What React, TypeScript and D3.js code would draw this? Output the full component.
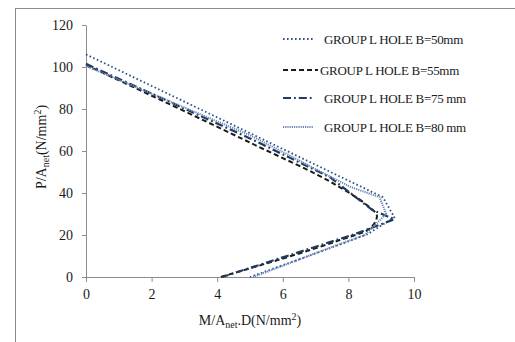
import { useRef, useEffect } from 'react';
import * as d3 from 'd3';

type Pt = { m: number; p: number };

const B50: Pt[] = [
  { m: 0, p: 106 }, { m: 5, p: 68.5 }, { m: 9.05, p: 38 }, { m: 9.4, p: 28.5 },
  { m: 8.6, p: 20.5 }, { m: 7.7, p: 15.2 }, { m: 5.0, p: 0 },
];
const B55: Pt[] = [
  { m: 0, p: 101 }, { m: 5, p: 64 }, { m: 7.6, p: 44 }, { m: 8.5, p: 35 },
  { m: 8.87, p: 29 }, { m: 8.6, p: 22.5 }, { m: 7.74, p: 17.6 }, { m: 4.1, p: 0 },
];
const B75: Pt[] = [
  { m: 0, p: 101.5 }, { m: 5, p: 66 }, { m: 7.44, p: 47.5 }, { m: 8.72, p: 32 },
  { m: 9.4, p: 27.5 }, { m: 8.3, p: 21 }, { m: 4.15, p: 0 },
];
const B80: Pt[] = [
  { m: 0, p: 100.5 }, { m: 5, p: 67.5 }, { m: 8.05, p: 43 }, { m: 8.95, p: 38 },
  { m: 9.15, p: 30 }, { m: 8.5, p: 20 }, { m: 7.7, p: 15.5 }, { m: 5.1, p: 0 },
];

const LABELS = [
  'GROUP L HOLE B=50mm',
  'GROUP L HOLE B=55mm',
  'GROUP L HOLE B=75 mm',
  'GROUP L HOLE B=80 mm',
];
const X_TICKS = [0, 2, 4, 6, 8, 10];
const Y_TICKS = [0, 20, 40, 60, 80, 100, 120];

const STYLES = [
  { data: B50, color: '#2f5289', dash: '1.6,2.4', width: 1.8, curve: d3.curveLinear },
  { data: B55, color: '#1b1b14', dash: '5,3', width: 2, curve: d3.curveMonotoneY },
  { data: B75, color: '#1f3b63', dash: '8,3,1.8,3', width: 2.2, curve: d3.curveLinear },
  { data: B80, color: '#6a86b4', dash: '1.2,1', width: 2, curve: d3.curveLinear },
];

export default function App() {
  const ref = useRef<SVGSVGElement>(null);

  useEffect(() => {
    if (!ref.current) return;
    const svg = d3.select(ref.current);
    svg.selectAll('*').remove();

    const font = '"Liberation Serif", "Times New Roman", serif';
    const x = d3.scaleLinear().domain([0, 10]).range([86, 414]);
    const y = d3.scaleLinear().domain([0, 120]).range([277, 25]);

    // chart frame
    svg.append('rect')
      .attr('x', 15.5).attr('y', 8.5).attr('width', 520).attr('height', 360)
      .attr('fill', 'white').attr('stroke', '#8c8c8c').attr('stroke-width', 1);

    // axes
    svg.append('g')
      .attr('transform', `translate(0,${y(0)})`)
      .call(d3.axisBottom(x).tickValues(X_TICKS).tickSize(5).tickSizeOuter(0).tickPadding(7))
      .call(sel => sel.select('.domain').attr('stroke', '#8c8c8c'))
      .call(sel => sel.selectAll('line').attr('stroke', '#8c8c8c'))
      .call(sel => sel.selectAll('text').attr('fill', '#1a1a1a').attr('font-size', 14).attr('font-family', font));

    svg.append('g')
      .attr('transform', `translate(${x(0)},0)`)
      .call(d3.axisLeft(y).tickValues(Y_TICKS).tickSize(4).tickSizeOuter(0).tickPadding(9))
      .call(sel => sel.select('.domain').attr('stroke', '#8c8c8c'))
      .call(sel => sel.selectAll('line').attr('stroke', '#8c8c8c'))
      .call(sel => sel.selectAll('text').attr('fill', '#1a1a1a').attr('font-size', 14).attr('font-family', font));

    // axis titles
    const xt = svg.append('text')
      .attr('x', 250).attr('y', 325).attr('text-anchor', 'middle')
      .attr('font-family', font).attr('font-size', 14).attr('fill', '#1a1a1a');
    xt.append('tspan').text('M/A');
    xt.append('tspan').attr('font-size', 10).attr('dy', 3).text('net');
    xt.append('tspan').attr('dy', -3).text('.D(N/mm');
    xt.append('tspan').attr('font-size', 10).attr('dy', -5).text('2');
    xt.append('tspan').attr('dy', 5).text(')');

    const yt = svg.append('text')
      .attr('transform', 'translate(46,147) rotate(-90)').attr('text-anchor', 'middle')
      .attr('font-family', font).attr('font-size', 14).attr('fill', '#1a1a1a');
    yt.append('tspan').text('P/A');
    yt.append('tspan').attr('font-size', 10).attr('dy', 3).text('net');
    yt.append('tspan').attr('dy', -3).text('(N/mm');
    yt.append('tspan').attr('font-size', 10).attr('dy', -5).text('2');
    yt.append('tspan').attr('dy', 5).text(')');

    // series
    STYLES.forEach(s => {
      const line = d3.line<Pt>().x(d => x(d.m)).y(d => y(d.p)).curve(s.curve);
      svg.append('path')
        .datum(s.data)
        .attr('fill', 'none')
        .attr('stroke', s.color)
        .attr('stroke-width', s.width)
        .attr('stroke-dasharray', s.dash)
        .attr('d', line);
    });

    // legend
    const legY = [39, 70, 98, 127];
    const legTx = [324, 320, 324, 324];
    const legX2 = [313, 318, 313, 313];
    STYLES.forEach((s, i) => {
      svg.append('line')
        .attr('x1', 283).attr('x2', legX2[i])
        .attr('y1', legY[i]).attr('y2', legY[i])
        .attr('stroke', s.color).attr('stroke-width', s.width)
        .attr('stroke-dasharray', s.dash);
      svg.append('text')
        .attr('x', legTx[i]).attr('y', legY[i] + 5)
        .attr('font-family', font).attr('font-size', 13).attr('letter-spacing', -0.3)
        .attr('fill', '#1a1a1a')
        .text(LABELS[i]);
    });
  }, []);

  return (
    <svg
      ref={ref}
      width={515}
      height={342}
      style={{ position: 'absolute', left: 0, top: 0, background: 'white' }}
    />
  );
}
